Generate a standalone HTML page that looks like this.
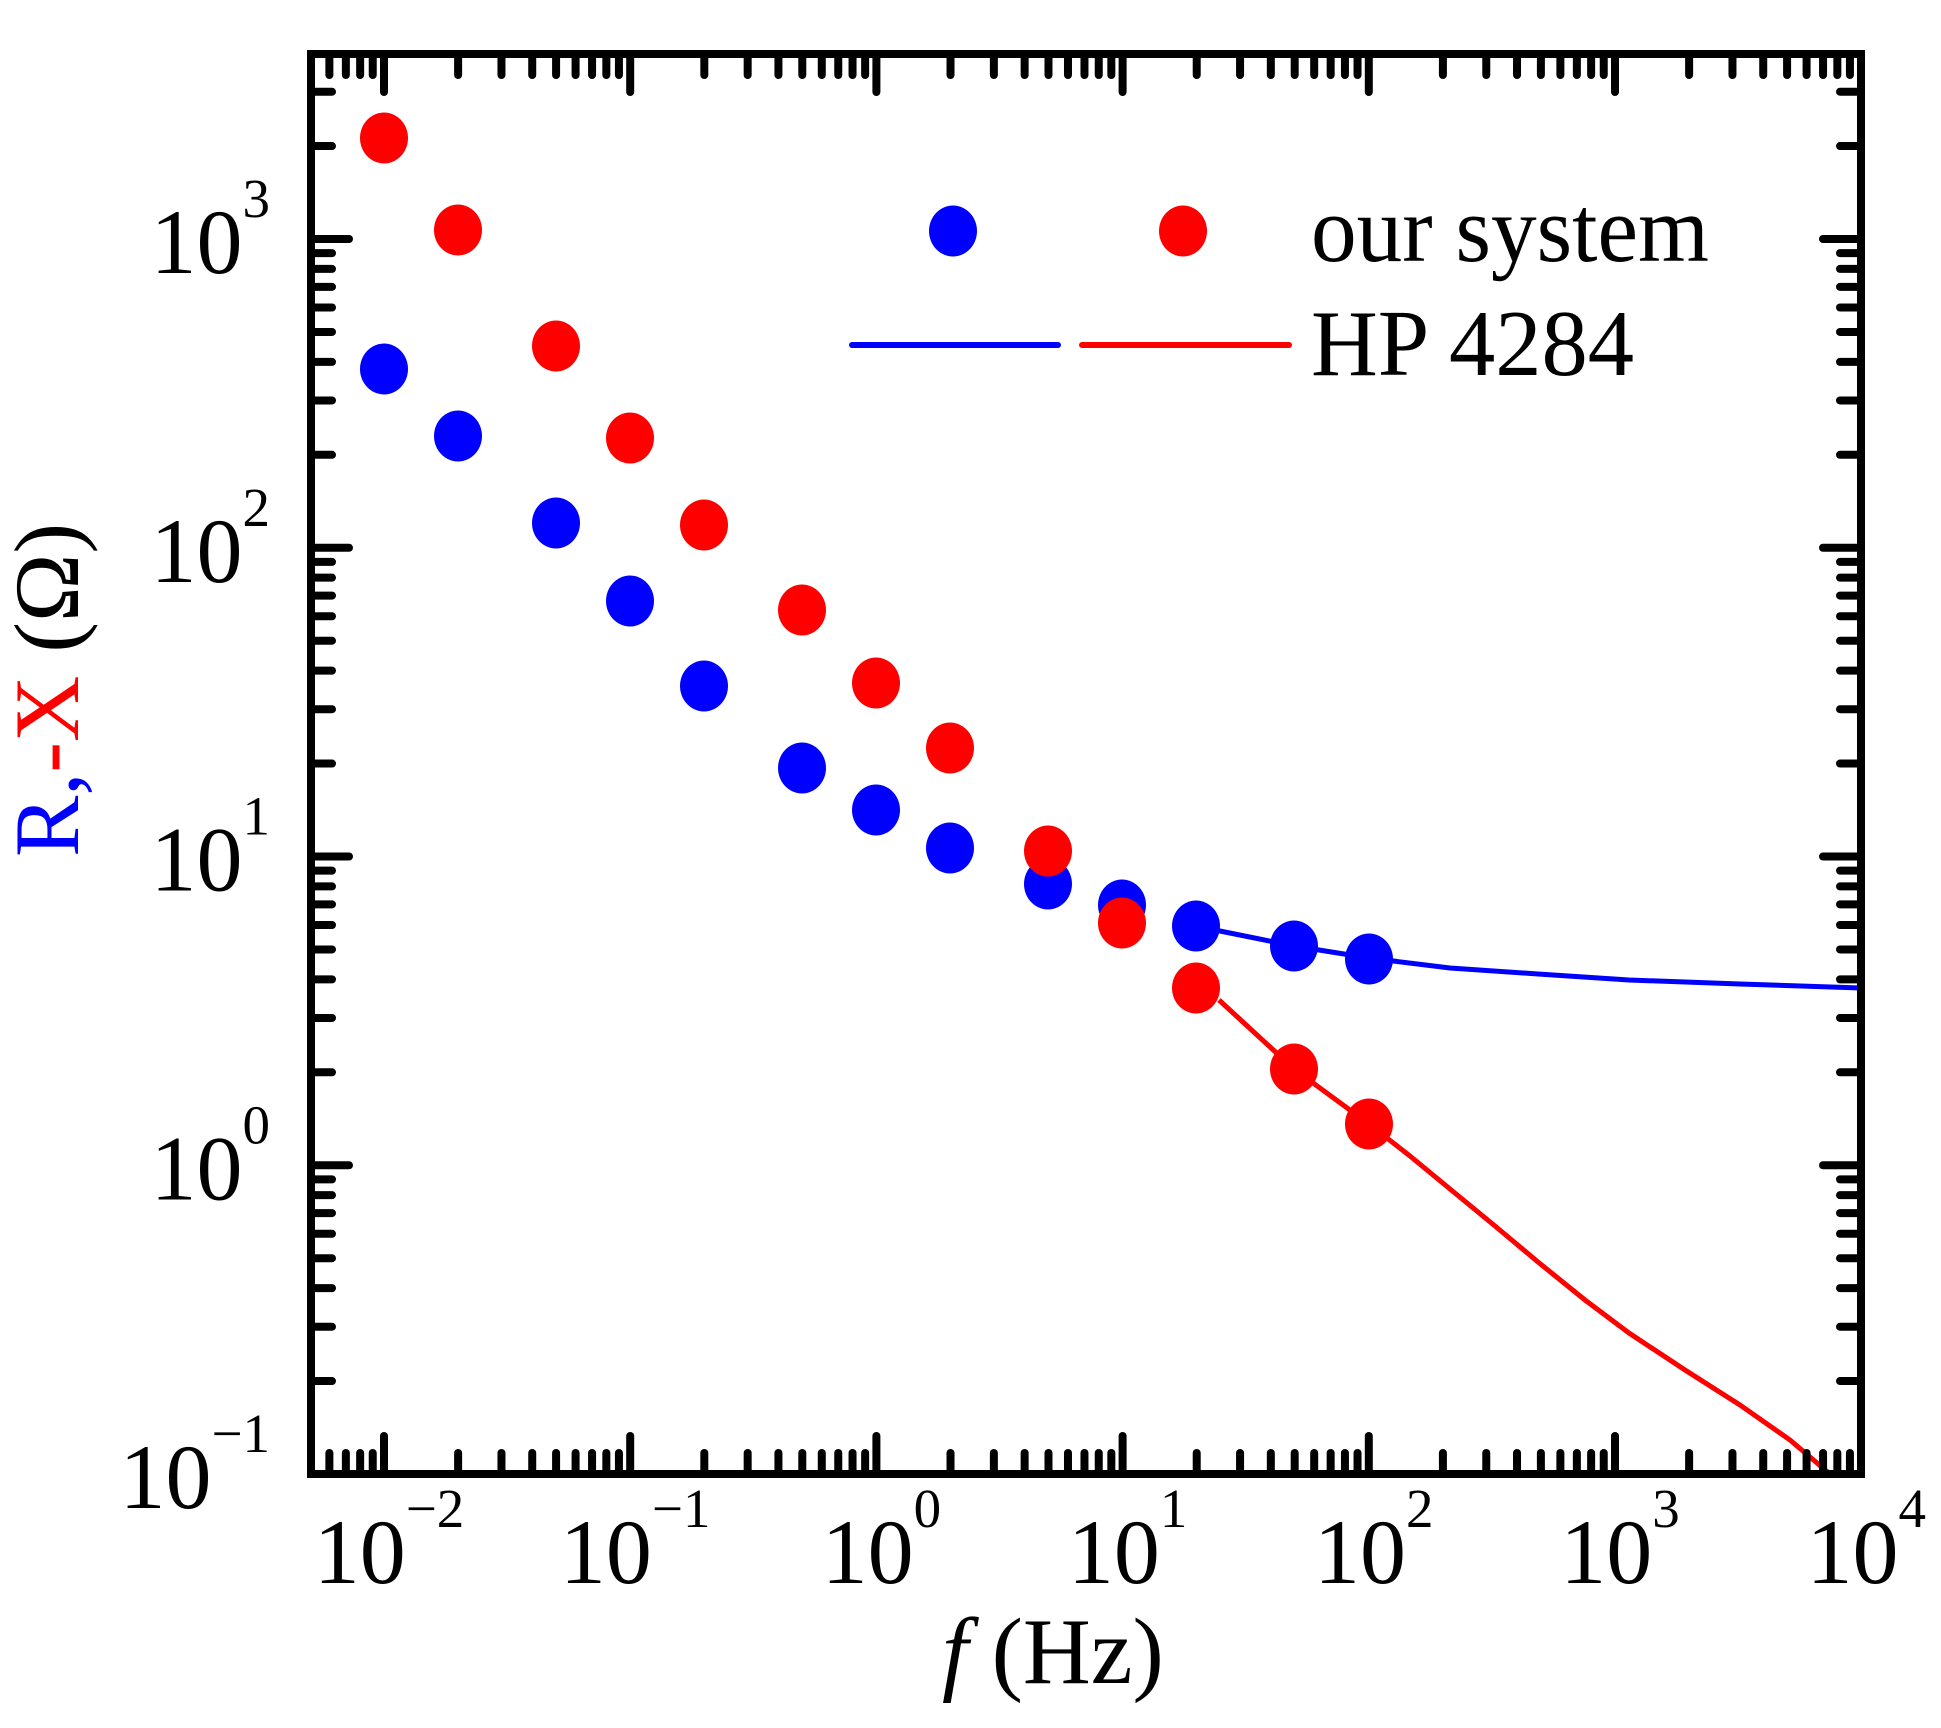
<!DOCTYPE html>
<html><head><meta charset="utf-8"><style>
html,body{margin:0;padding:0;background:#fff;}
svg{display:block;}
text{font-family:"Liberation Serif","Times New Roman",serif;}
</style></head><body>
<svg id="s" width="1941" height="1728" viewBox="0 0 1941 1728" xmlns="http://www.w3.org/2000/svg">
<rect width="1941" height="1728" fill="#fff"/>
<defs><clipPath id="c"><rect x="311" y="54" width="1550" height="1420"/></clipPath></defs>
<g clip-path="url(#c)" fill="none" stroke-width="5" stroke-linejoin="round">
<polyline stroke="#0000ff" points="1210,929 1294,946 1369,958 1450,968 1538,974 1629,980 1740,984 1861,988"/>
<polyline stroke="#ff0000" points="1219,1000 1294,1069 1369,1124 1410,1156 1450,1189 1495,1226 1538,1262 1585,1300 1629,1333 1685,1370 1740,1405 1790,1440 1830,1474 1850,1490"/>
</g>
<g id="ticks" stroke="#000" stroke-width="8" stroke-linecap="round"></g>
<rect x="311" y="54" width="1550" height="1420" fill="none" stroke="#000" stroke-width="8"/>
<g id="pts"></g>
<g font-size="92" fill="#000" id="lab"></g>
<!-- legend -->
<ellipse cx="953" cy="231" rx="24" ry="25.5" fill="#0000ff"/>
<ellipse cx="1183" cy="231" rx="24" ry="25.5" fill="#ff0000"/>
<line x1="852" y1="345" x2="1058" y2="345" stroke="#0000ff" stroke-width="6" stroke-linecap="round"/>
<line x1="1082" y1="345" x2="1289" y2="345" stroke="#ff0000" stroke-width="6" stroke-linecap="round"/>
<text x="1311" y="261" font-size="94" textLength="398" lengthAdjust="spacingAndGlyphs">our system</text>
<text x="1311" y="375" font-size="94" textLength="323" lengthAdjust="spacingAndGlyphs">HP 4284</text>
<text x="942" y="1683" font-size="94"><tspan font-style="italic">f</tspan> (Hz)</text>
<text transform="translate(78,690) rotate(-90)" text-anchor="middle" font-size="92"><tspan fill="#0000ff">R,</tspan><tspan fill="#ff0000">-X</tspan><tspan fill="#000"> (Ω)</tspan></text>
</svg>
<script>
var NS="http://www.w3.org/2000/svg";
function X(f){return 384+(Math.log10(f)+2)*246.2;}
function Y(v){return 1474-(Math.log10(v)+1)*308.75;}
var T=document.getElementById('ticks'),L=document.getElementById('lab'),P=document.getElementById('pts');
function ln(x1,y1,x2,y2){var l=document.createElementNS(NS,'line');l.setAttribute('x1',x1);l.setAttribute('y1',y1);l.setAttribute('x2',x2);l.setAttribute('y2',y2);T.appendChild(l);}
for(var e=-3;e<=3;e++){for(var m=1;m<=9;m++){var f=m*Math.pow(10,e);var x=X(f);if(x<318||x>1856)continue;var len=(m==1)?38:21;ln(x,1474,x,1474-len);ln(x,54,x,54+len);}}
ln(1861,1474,1861,1436);
for(var e=-1;e<=3;e++){for(var m=1;m<=9;m++){var v=m*Math.pow(10,e);var y=Y(v);if(y<60||y>1470)continue;var len=(m==1)?38:21;ln(311,y,311+len,y);ln(1861,y,1861-len,y);}}
ln(311,1474,349,1474);ln(1861,1474,1823,1474);
function lab(x,y,anchor,exp){var t=document.createElementNS(NS,'text');t.setAttribute('x',x);t.setAttribute('y',y);t.setAttribute('text-anchor',anchor);t.textContent='10';var s=document.createElementNS(NS,'tspan');s.setAttribute('font-size','55');s.setAttribute('dy','-56');s.textContent=exp;t.appendChild(s);L.appendChild(t);}
var ex={'-2':'\u22122','-1':'\u22121','0':'0','1':'1','2':'2','3':'3','4':'4'};
for(var e=-2;e<=4;e++){lab(X(Math.pow(10,e))+5,1583,'middle',ex[e]);}
for(var e=-1;e<=3;e++){lab(270,Y(Math.pow(10,e))+34,'end',ex[e]);}
var bx=[384,458,556,630,704,802,876,950,1048,1122,1196,1294,1369];
var by=[369,436,523,601,686,768,810,848,884,905,926,946,959];
var ry=[138,230,346,438,525,610,683,748,851,923,988,1069,1124];
function pt(x,y,c){var el=document.createElementNS(NS,'ellipse');el.setAttribute('cx',x);el.setAttribute('cy',y);el.setAttribute('rx',24);el.setAttribute('ry',25.5);el.setAttribute('fill',c);P.appendChild(el);}
for(var i=0;i<13;i++){pt(bx[i],by[i],'#0000ff');pt(bx[i],ry[i],'#ff0000');}
</script>
</body></html>
